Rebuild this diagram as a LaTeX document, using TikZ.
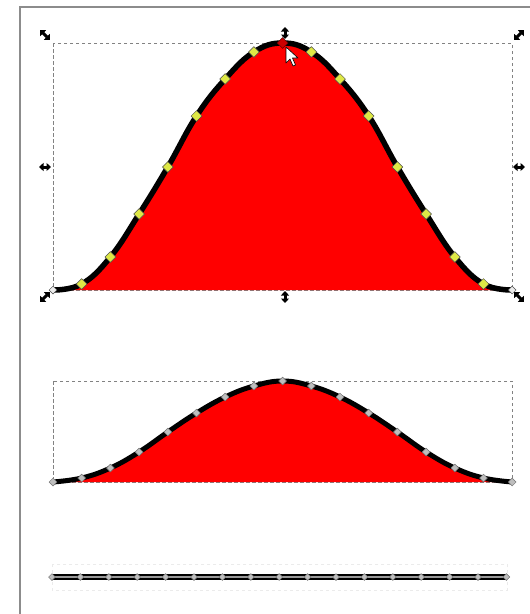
\documentclass[tikz,border=0pt]{standalone}
\usetikzlibrary{arrows.meta,shapes.geometric}
\definecolor{fillred}{RGB}{255,0,0}
\definecolor{nodeyel}{RGB}{222,232,70}
\definecolor{nodegry}{RGB}{190,190,190}
\definecolor{boxgry}{RGB}{130,130,130}
\tikzset{
  frame/.style={draw=black!45,line width=1.6pt},
  selbox/.style={draw=boxgry,line width=0.7pt,dash pattern=on 3.5pt off 2.5pt},
  faintbox/.style={draw=black!8,line width=0.6pt,dash pattern=on 3pt off 3pt},
  curvestroke/.style={draw=black,line width=5.5pt,line join=round},
  ynode/.style={diamond,draw=black!70,fill=nodeyel,line width=0.5pt,minimum size=11pt,inner sep=0pt},
  gnode/.style={diamond,draw=black!55,fill=nodegry,line width=0.5pt,minimum size=8pt,inner sep=0pt},
  endnode/.style={diamond,draw=black!70,fill=white!85!gray,line width=0.5pt,minimum size=8pt,inner sep=0pt},
  selnode/.style={diamond,draw=black!60!red,fill=red!80!black,line width=0.5pt,minimum size=11pt,inner sep=0pt},
  hdl/.style={{Triangle[length=4.5pt,width=8pt]}-{Triangle[length=4.5pt,width=8pt]},line width=3pt,black},
}

\begin{document}
\begin{tikzpicture}[x=1pt,y=-1pt]
  \useasboundingbox (0,0) rectangle (530,614);
  \fill[white] (0,0) rectangle (530,614);
  \draw[frame] (20,614) |- (530,7);

  % ---------------- tall curve
  \foreach \yy [count=\i from 0] in {290,284,257,214,167,116,79,52,43,52,79,116,167,214,257,284,290}
    \coordinate (t\i) at ({53+28.7*\i},\yy);
  \draw[selbox] (53,43) rectangle (512,290);
  \fill[fillred] plot[smooth,tension=0.7] coordinates {(t0) (t1) (t2) (t3) (t4) (t5) (t6) (t7) (t8)
    (t9) (t10) (t11) (t12) (t13) (t14) (t15) (t16)} -- cycle;
  \draw[curvestroke] plot[smooth,tension=0.7] coordinates {(t0) (t1) (t2) (t3) (t4) (t5) (t6) (t7) (t8)
    (t9) (t10) (t11) (t12) (t13) (t14) (t15) (t16)};
  \foreach \i in {1,...,7,9,10,...,15}
    \node[ynode] (tn\i) at (t\i) {};
  \node[selnode] (tn8) at (t8) {};
  \node[endnode] (tn0) at (t0) {};
  \node[endnode] (tn16) at (t16) {};

  % ---------------- scale handles
  \coordinate (hTL) at (45,35);
  \coordinate (hTR) at (519,35);
  \coordinate (hBL) at (45,297);
  \coordinate (hBR) at (519,297);
  \coordinate (hL) at (45,167);
  \coordinate (hR) at (519,167);
  \coordinate (hT) at (285,33);
  \coordinate (hB) at (285,297);
  \draw[hdl] ([shift={(-5,-5)}]hTL) -- ([shift={(5,5)}]hTL);
  \draw[hdl] ([shift={(5,-5)}]hTR) -- ([shift={(-5,5)}]hTR);
  \draw[hdl] ([shift={(-5,5)}]hBL) -- ([shift={(5,-5)}]hBL);
  \draw[hdl] ([shift={(5,5)}]hBR) -- ([shift={(-5,-5)}]hBR);
  \draw[hdl] ([shift={(-6,0)}]hL) -- ([shift={(6,0)}]hL);
  \draw[hdl] ([shift={(-6,0)}]hR) -- ([shift={(6,0)}]hR);
  \draw[hdl] ([shift={(0,-6)}]hT) -- ([shift={(0,6)}]hT);
  \draw[hdl] ([shift={(0,-6)}]hB) -- ([shift={(0,6)}]hB);

  % ---------------- mouse pointer
  \coordinate (ptr) at (286,47);
  \draw[black,fill=white,line width=0.6pt,line join=round] (ptr) -- ++(0,16) -- ++(4,-4) -- ++(3,7)
    -- ++(2.5,-1) -- ++(-3,-7) -- ++(5.5,0) -- cycle;

  % ---------------- flat curve
  \foreach \yy [count=\i from 0] in {482,478,468,452,432,413,397,386,381,386,397,413,432,452,468,478,482}
    \coordinate (m\i) at ({53+28.7*\i},\yy);
  \draw[selbox] (53,381) rectangle (512,482);
  \fill[fillred] plot[smooth,tension=0.7] coordinates {(m0) (m1) (m2) (m3) (m4) (m5) (m6) (m7) (m8)
    (m9) (m10) (m11) (m12) (m13) (m14) (m15) (m16)} -- cycle;
  \draw[curvestroke,line width=5pt] plot[smooth,tension=0.7] coordinates {(m0) (m1) (m2) (m3) (m4) (m5) (m6) (m7) (m8)
    (m9) (m10) (m11) (m12) (m13) (m14) (m15) (m16)};
  \foreach \i in {0,...,16}
    \node[gnode] (mn\i) at (m\i) {};

  % ---------------- straight line
  \foreach \i in {0,...,16}
    \coordinate (b\i) at ({52+28.4*\i},577);
  \draw[faintbox] (52,564) rectangle (507,590);
  \draw[black,line width=6pt] (b0) -- (b16);
  \draw[black!40,line width=1.2pt] (b0) -- (b16);
  \foreach \i in {0,...,16}
    \node[gnode,minimum size=7pt] (bn\i) at (b\i) {};
\end{tikzpicture}
\end{document}
